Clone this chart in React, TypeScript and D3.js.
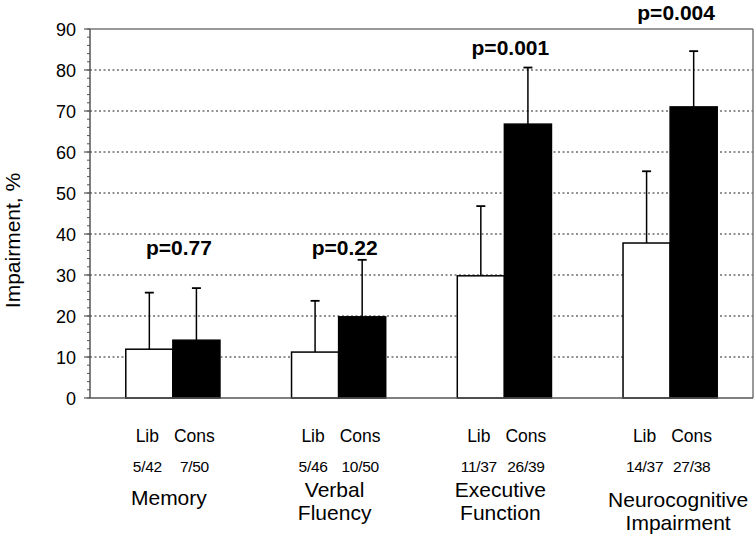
import React, { useEffect } from "react";
import * as d3 from "d3";

const categories = ["Memory", "Verbal Fluency", "Executive Function", "Neurocognitive Impairment"];
const categoryLines = [["Memory"], ["Verbal", "Fluency"], ["Executive", "Function"], ["Neurocognitive", "Impairment"]];
const series = ["Lib", "Cons"];
const libValues = [11.9, 11.2, 29.8, 37.8];
const consValues = [14.1, 19.8, 66.8, 71.0];
const libErrTop = [25.7, 23.7, 46.8, 55.3];
const consErrTop = [26.8, 33.7, 80.6, 84.6];
const libCounts = ["5/42", "5/46", "11/37", "14/37"];
const consCounts = ["7/50", "10/50", "26/39", "27/38"];
const pLabels = ["p=0.77", "p=0.22", "p=0.001", "p=0.004"];
const pLabelLevel = [35, 35, 83.6, 92.2];
const yTicks = [0, 10, 20, 30, 40, 50, 60, 70, 80, 90];
const yMinorTicks = d3.range(0, 91, 2);

const W = 756;
const H = 545;
const M = { left: 90, right: 3, top: 29, bottom: 147 };
const FONT = "'Liberation Sans', Arial, Helvetica, sans-serif";

export default function App() {
  useEffect(() => {
    document.body.style.margin = "0";
  }, []);

  const x0 = d3
    .scaleBand<string>()
    .domain(categories)
    .range([M.left, W - M.right])
    .paddingInner(0)
    .paddingOuter(0);
  const x1 = d3.scaleBand<string>().domain(series).range([0, x0.bandwidth()]).paddingInner(0).paddingOuter(0.76);
  const y = d3.scaleLinear().domain([0, 90]).range([H - M.bottom, M.top]);

  const bw = x1.bandwidth();
  const plotRight = W - M.right;
  const yBottom = y(0);

  const values = [libValues, consValues];
  const errs = [libErrTop, consErrTop];
  const counts = [libCounts, consCounts];
  const fills = ["#ffffff", "#000000"];

  return (
    <svg width={W} height={H} style={{ display: "block", background: "#fff" }} fontFamily={FONT}>
      {yTicks
        .filter((t) => t > 0 && t < 90)
        .map((t) => (
          <line
            key={"g" + t}
            x1={M.left}
            x2={plotRight}
            y1={y(t)}
            y2={y(t)}
            stroke="#222"
            strokeWidth={1}
            strokeDasharray="2,2.5"
          />
        ))}
      <line x1={M.left} x2={plotRight} y1={y(90)} y2={y(90)} stroke="#777" strokeWidth={1.5} />
      <line x1={plotRight} x2={plotRight} y1={y(90)} y2={yBottom} stroke="#777" strokeWidth={1.5} />

      {categories.map((c, i) => (
        <g key={c}>
          {series.map((s, k) => {
            const bx = x0(c)! + x1(s)!;
            const cx = bx + bw / 2;
            return (
              <g key={s}>
                <line x1={cx} x2={cx} y1={y(values[k][i])} y2={y(errs[k][i])} stroke="#000" strokeWidth={1.5} />
                <line x1={cx - 4.5} x2={cx + 4.5} y1={y(errs[k][i])} y2={y(errs[k][i])} stroke="#000" strokeWidth={1.8} />
                <rect
                  x={bx}
                  y={y(values[k][i])}
                  width={bw}
                  height={yBottom - y(values[k][i])}
                  fill={fills[k]}
                  stroke="#000"
                  strokeWidth={1.5}
                />
              </g>
            );
          })}
          <text
            x={x0(c)! + x0.bandwidth() / 2 + 6}
            y={y(pLabelLevel[i])}
            textAnchor="middle"
            fontWeight="bold"
            fontSize={21}
          >
            {pLabels[i]}
          </text>
          {series.map((s, k) => {
            const cx = x0(c)! + x1(s)! + bw / 2;
            return (
              <g key={"lab" + s}>
                <text x={cx - 2} y={442} textAnchor="middle" fontSize={17.5}>
                  {s}
                </text>
                <text x={cx - 2} y={472} textAnchor="middle" fontSize={15.5} letterSpacing={-0.3}>
                  {counts[k][i]}
                </text>
              </g>
            );
          })}
          {categoryLines[i].map((ln, j) => (
            <text
              key={ln}
              x={x0(c)! + x0.bandwidth() / 2 + (i === 3 ? 8 : -4)}
              y={(categoryLines[i].length === 1 ? 505 : i === 3 ? 507 : 497) + j * 23}
              textAnchor="middle"
              fontSize={21}
            >
              {ln}
            </text>
          ))}
        </g>
      ))}

      <line x1={M.left} x2={M.left} y1={y(90)} y2={yBottom} stroke="#555" strokeWidth={1.5} />
      <line x1={M.left} x2={plotRight} y1={yBottom} y2={yBottom} stroke="#555" strokeWidth={1.5} />
      {yMinorTicks.map((t) => (
        <line key={"m" + t} x1={M.left - 3} x2={M.left} y1={y(t)} y2={y(t)} stroke="#555" strokeWidth={1} />
      ))}
      {yTicks.map((t) => (
        <g key={"t" + t}>
          <line x1={M.left - 6} x2={M.left} y1={y(t)} y2={y(t)} stroke="#555" strokeWidth={1.2} />
          <text x={76} y={y(t) + 6.5} textAnchor="end" fontSize={18}>
            {t}
          </text>
        </g>
      ))}
      <text
        transform={`translate(20,${(y(0) + y(90)) / 2 + 27}) rotate(-90)`}
        textAnchor="middle"
        fontSize={21}
      >
        Impairment, %
      </text>
    </svg>
  );
}
